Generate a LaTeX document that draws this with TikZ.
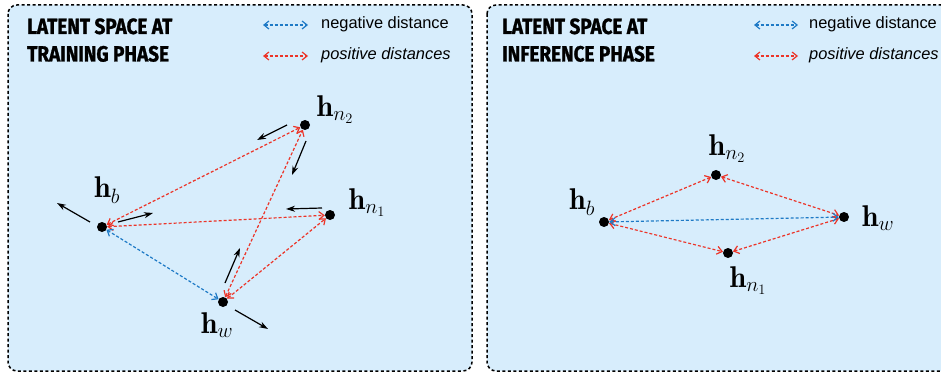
\documentclass[tikz,border=0pt]{standalone}
\usepackage{fontspec}
\usepackage{amsmath}
\setsansfont{Liberation Sans}
\newfontfamily\titlefont[FakeStretch=0.86,FakeBold=1.2]{Fira Sans}
\usetikzlibrary{arrows.meta}
\definecolor{panelblue}{RGB}{215,237,252}
\definecolor{posred}{RGB}{236,52,40}
\definecolor{negblue}{RGB}{30,122,198}
\tikzset{
  panel/.style={draw=black, line width=1.5pt, dash pattern=on 3pt off 2.5pt, rounded corners=9pt, fill=panelblue},
  dotn/.style={circle, fill=black, inner sep=0pt, minimum size=10pt},
  lbl/.style={font=\fontsize{30}{34}\selectfont, inner sep=0pt},
  ttl/.style={font=\titlefont\bfseries\fontsize{22}{27.5}\selectfont, align=left, inner sep=0pt, anchor=base west},
  legtxt/.style={font=\sffamily\fontsize{16.4}{18}\selectfont, inner sep=0pt, anchor=base west},
  dist/.style={line width=1.2pt, dash pattern=on 3pt off 2pt, {Straight Barb[length=5pt,width=8pt]}-{Straight Barb[length=5pt,width=8pt]}},
  posd/.style={dist, draw=posred},
  negd/.style={dist, draw=negblue},
  move/.style={line width=1.2pt, -{Stealth[length=9pt,width=6pt]}}
}
\begin{document}
\begin{tikzpicture}[x=1pt,y=-1pt]
\useasboundingbox (0,0) rectangle (941,374);
\begin{scope}
\clip (0,0) rectangle (941,374);
% panels
\draw[panel] (8,5) rectangle (472,371);
\draw[panel] (487,5) rectangle (950,371);
\end{scope}

% ---------- left panel ----------
\node[ttl] (t1) at (27,61.5) {LATENT SPACE AT\\TRAINING PHASE};
\coordinate (lb1) at (263,25); \coordinate (le1) at (308,25);
\coordinate (lb2) at (263,56); \coordinate (le2) at (308,56);
\draw[negd] (lb1) -- (le1);
\draw[posd] (lb2) -- (le2);
\node[legtxt] (l1) at (321,29) {negative distance};
\node[legtxt] (l2) at (321,60) {\itshape positive distances};

\node[dotn] (hn2) at (305,125) {};
\node[dotn] (hb) at (102,227) {};
\node[dotn] (hn1) at (330,215) {};
\node[dotn] (hw) at (223,302) {};
\node[lbl] (lhn2) at (335,110) {$\mathbf{h}_{n_2}$};
\node[lbl] (lhb) at (107,190) {$\mathbf{h}_{b}$};
\node[lbl] (lhn1) at (367,203) {$\mathbf{h}_{n_1}$};
\node[lbl] (lhw) at (217,325) {$\mathbf{h}_{w}$};

\draw[posd] (hb) -- (hn2);
\draw[posd] (hb) -- (hn1);
\draw[negd] (hb) -- (hw);
\draw[posd] (hw) -- (hn2);
\draw[posd] (hw) -- (hn1);

\coordinate (a1s) at (287,125); \coordinate (a1e) at (257,140);
\coordinate (a2s) at (306,141); \coordinate (a2e) at (292,175);
\coordinate (a3s) at (90,222);  \coordinate (a3e) at (57,203);
\coordinate (a4s) at (118,222); \coordinate (a4e) at (153,213);
\coordinate (a5s) at (322,208); \coordinate (a5e) at (286,209);
\coordinate (a6s) at (225,283); \coordinate (a6e) at (240,248);
\coordinate (a7s) at (235,310); \coordinate (a7e) at (268,329);
\foreach \i in {1,...,7} \draw[move] (a\i s) -- (a\i e);

% ---------- right panel ----------
\node[ttl] (t2) at (502,61.5) {LATENT SPACE AT\\INFERENCE PHASE};
\coordinate (rb1) at (754,25); \coordinate (re1) at (798,25);
\coordinate (rb2) at (754,56); \coordinate (re2) at (798,56);
\draw[negd] (rb1) -- (re1);
\draw[posd] (rb2) -- (re2);
\node[legtxt] (r1) at (809,29) {negative distance};
\node[legtxt] (r2) at (809,60) {\itshape positive distances};

\node[dotn] (rn2) at (716,175) {};
\node[dotn] (rb) at (604,222) {};
\node[dotn] (rw) at (844,217) {};
\node[dotn] (rn1) at (728,253) {};
\node[lbl] (lrn2) at (727,149) {$\mathbf{h}_{n_2}$};
\node[lbl] (lrb) at (582,202) {$\mathbf{h}_{b}$};
\node[lbl] (lrw) at (878,218) {$\mathbf{h}_{w}$};
\node[lbl] (lrn1) at (748,281) {$\mathbf{h}_{n_1}$};

\draw[posd] (rb) -- (rn2);
\draw[posd] (rn2) -- (rw);
\draw[posd] (rb) -- (rn1);
\draw[posd] (rn1) -- (rw);
\draw[negd] (rb) -- (rw);
\end{tikzpicture}
\end{document}
